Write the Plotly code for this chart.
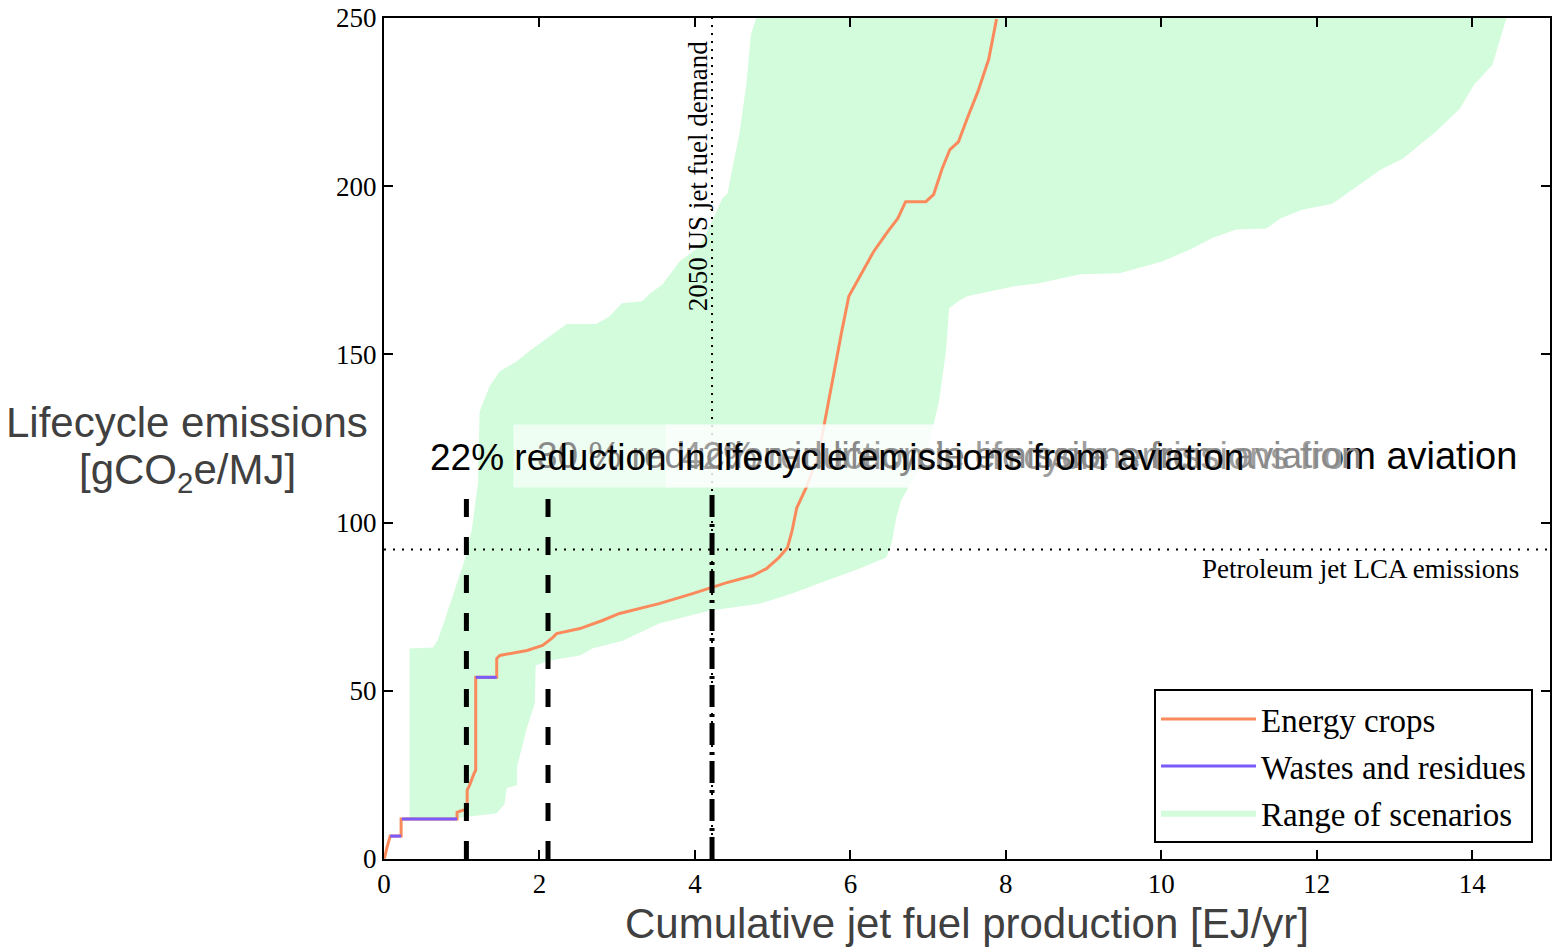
import plotly.graph_objects as go

# Range of scenarios: left/upper edge and right/lower edge of the envelope
range_upper_x = [0.33, 0.33, 0.63, 0.69, 0.78, 0.91, 1.04, 1.13, 1.21, 1.23, 1.36, 1.49, 1.71, 1.87,
                 2.17, 2.35, 2.73, 2.90, 3.06, 3.32, 3.41, 3.58, 3.71, 3.80, 4.06, 4.22, 4.35, 4.42,
                 4.48, 4.57, 4.66, 4.72, 4.79]
range_upper_y = [11.6, 62.6, 62.9, 65, 71, 80, 89, 98, 112, 133, 140.6, 145, 148, 151,
                 156, 159, 159, 161.3, 165.2, 165.8, 167.9, 170.8, 174.7, 177.6, 182.1, 189.5, 196.3, 197.8,
                 205.2, 215.3, 230.1, 245, 250]
range_lower_x = [0.33, 0.94, 1.45, 1.55, 1.58, 1.71, 1.71, 1.84, 1.94, 1.95, 2.13, 2.52, 2.68, 3.07,
                 3.54, 4.18, 4.83, 5.25, 5.69, 6.11, 6.46, 6.53, 6.59, 6.65, 6.75, 6.97, 7.14, 7.23,
                 7.27, 7.39, 7.50, 8.09, 8.41, 8.96, 9.46, 9.67, 10.01, 10.37, 10.65, 10.96, 11.35,
                 11.53, 11.81, 12.20, 12.48, 12.82, 13.11, 13.53, 13.84, 14.02, 14.26, 14.36, 14.44]
range_lower_y = [11.6, 12.2, 13.6, 16.3, 21.1, 21.9, 27.3, 39.1, 46.3, 57.5, 59.0, 60.5, 62.6, 64.9,
                 70.0, 73.8, 75.9, 78.9, 82.7, 86.3, 89.6, 93.7, 101.4, 106.5, 110.3, 119.2, 136.1, 151.0,
                 163.7, 165.8, 167.3, 170.2, 171.1, 173.8, 174.1, 175.3, 177.6, 181.2, 184.5, 187.1, 187.4,
                 190.4, 193.0, 194.8, 199.3, 204.9, 208.2, 216.2, 223.0, 230.1, 236.1, 243.8, 250]

# Supply curve (cumulative production vs lifecycle emissions)
crop_x = [0, 0.01, 0.04, 0.08, 0.22, 0.22, 0.94, 0.94, 1.01, 1.07, 1.07, 1.10, 1.16, 1.18, 1.18,
          1.45, 1.45, 1.49, 1.84, 2.04, 2.17, 2.22, 2.52, 2.81, 3.03, 3.54, 3.97, 4.18, 4.40, 4.74,
          4.92, 5.08, 5.19, 5.25, 5.31, 5.43, 5.60, 5.67, 5.79, 5.89, 5.98, 6.16, 6.30, 6.48, 6.61,
          6.71, 6.97, 7.07, 7.18, 7.28, 7.39, 7.50, 7.64, 7.78, 7.88]
crop_y = [0, 0.6, 3.6, 6.8, 6.8, 11.9, 11.9, 13.9, 14.5, 14.5, 20.5, 21.9, 25.5, 26.4, 54.0,
          54.0, 59.6, 60.5, 62.0, 63.5, 65.8, 67.0, 68.5, 70.9, 73.0, 75.9, 78.9, 80.4, 82.1, 84.2,
          86.3, 89.6, 92.5, 97.6, 104.4, 110.3, 121, 130, 145, 157, 167.3, 174.7, 180.6, 186.5, 190.4,
          195.4, 195.4, 197.5, 205.2, 210.9, 213.2, 220.0, 228.1, 237.8, 249.7]

# Segments supplied by wastes and residues
waste_x = [0.08, 0.22, None, 0.23, 0.94, None, 1.18, 1.45]
waste_y = [6.8, 6.8, None, 11.9, 11.9, None, 54.0, 54.0]

# Reference levels
demand_2050 = 4.22          # EJ/yr
petroleum_lca = 92          # gCO2e/MJ
reduction_dashed_x = [1.06, 2.11]
reduction_dashdot_x = 4.22
reduction_marker_top = 110

x_ticks = [0, 2, 4, 6, 8, 10, 12, 14]
y_ticks = [0, 50, 100, 150, 200, 250]

SERIF = "Liberation Serif, Times New Roman, serif"
SANS = "Liberation Sans, Arial, sans-serif"
FILL = "#d3fcdc"

fig = go.Figure()

fig.add_trace(go.Scatter(
    x=range_upper_x + range_lower_x[::-1],
    y=range_upper_y + range_lower_y[::-1],
    fill="toself", fillcolor=FILL, mode="lines", line=dict(width=0, color=FILL),
    name="Range of scenarios", legendgroup="c", legendrank=3, hoverinfo="skip"))

fig.add_trace(go.Scatter(
    x=crop_x, y=crop_y, mode="lines", line=dict(color="#fa8a5c", width=3),
    name="Energy crops", legendgroup="a", legendrank=1))

fig.add_trace(go.Scatter(
    x=waste_x, y=waste_y, mode="lines", line=dict(color="#7a5af8", width=3),
    name="Wastes and residues", legendgroup="b", legendrank=2, connectgaps=False))

# 2050 demand (dotted, full height)
fig.add_trace(go.Scatter(
    x=[demand_2050, demand_2050], y=[0, 250], mode="lines",
    line=dict(color="black", width=2, dash="2px,6px"), showlegend=False, hoverinfo="skip"))

# Petroleum jet reference (dotted, full width)
fig.add_trace(go.Scatter(
    x=[0, 15], y=[petroleum_lca, petroleum_lca], mode="lines",
    line=dict(color="black", width=2, dash="2px,7px"), showlegend=False, hoverinfo="skip"))

# Reduction markers
for xv in reduction_dashed_x:
    fig.add_trace(go.Scatter(
        x=[xv, xv], y=[0, reduction_marker_top], mode="lines",
        line=dict(color="black", width=5, dash="18px,20px"), showlegend=False, hoverinfo="skip"))
fig.add_trace(go.Scatter(
    x=[reduction_dashdot_x, reduction_dashdot_x], y=[0, reduction_marker_top], mode="lines",
    line=dict(color="black", width=5, dash="22px,6px,3px,7px"), showlegend=False, hoverinfo="skip"))

ann = []
ann.append(dict(x=demand_2050, y=203, xref="x", yref="y", text="2050 US jet fuel demand",
                textangle=-90, showarrow=False, xshift=-14,
                font=dict(family=SERIF, size=27, color="black")))
ann.append(dict(x=(1523 - 384) / 1168, y=petroleum_lca - 5.8, xref="paper", yref="y", xanchor="right",
                yanchor="middle", text="Petroleum jet LCA emissions", showarrow=False,
                font=dict(family=SERIF, size=27, color="black")))

# Overlapping reduction captions with translucent backing boxes
box_y = (859 - 455) / 843
ann.append(dict(x=(665 - 384) / 1168, y=box_y, xref="paper", yref="paper", xanchor="left", yanchor="middle",
                text="\u00a0", width=865, height=62, bgcolor="rgba(255,255,255,0.6)", borderpad=0,
                showarrow=False, font=dict(size=10)))
ann.append(dict(x=(680 - 384) / 1168, y=box_y, xref="paper", yref="paper", xanchor="left", yanchor="middle",
                text="42% reduction in lifecycle emissions from aviation", showarrow=False,
                font=dict(family=SANS, size=38, color="black")))
ann.append(dict(x=(513 - 384) / 1168, y=box_y, xref="paper", yref="paper", xanchor="left", yanchor="middle",
                text="\u00a0", width=827, height=62, bgcolor="rgba(255,255,255,0.62)", borderpad=0,
                showarrow=False, font=dict(size=10)))
ann.append(dict(x=(535 - 384) / 1168, y=box_y, xref="paper", yref="paper", xanchor="left", yanchor="middle",
                text="30 % reduction in lifecycle emissions from aviation", showarrow=False,
                font=dict(family=SANS, size=37, color="#8a8a8a")))
ann.append(dict(x=(428 - 384) / 1168, y=(859 - 457) / 843, xref="paper", yref="paper", xanchor="left",
                yanchor="middle", text="22% reduction in lifecycle emissions from aviation", showarrow=False,
                font=dict(family=SANS, size=37, color="black")))

# Y axis title, written horizontally to the left of the axis
ann.append(dict(x=(187 - 384) / 1168, y=(859 - 421) / 843, xref="paper", yref="paper",
                text="Lifecycle emissions", showarrow=False, xanchor="center", yanchor="middle",
                font=dict(family=SANS, size=42, color="#404040")))
ann.append(dict(x=(187 - 384) / 1168, y=(859 - 472) / 843, xref="paper", yref="paper",
                text="[gCO<sub>2</sub>e/MJ]", showarrow=False, xanchor="center", yanchor="middle",
                font=dict(family=SANS, size=42, color="#404040")))

fig.update_layout(
    width=1555, height=947,
    margin=dict(l=384, r=3, t=16, b=88),
    plot_bgcolor="white", paper_bgcolor="white",
    annotations=ann,
    showlegend=True,
    legend=dict(x=(1535 - 384) / 1168, y=(859 - 843) / 843, xanchor="right", yanchor="bottom",
                bordercolor="black", borderwidth=2, bgcolor="white",
                font=dict(family=SERIF, size=33, color="black"),
                traceorder="grouped", tracegroupgap=1, itemwidth=95),
    xaxis=dict(range=[0, 15], tickvals=x_ticks, ticks="inside", ticklen=9, tickwidth=1.5,
               tickcolor="black", showline=True, linecolor="black", linewidth=2, mirror="ticks",
               showgrid=False, zeroline=False,
               tickfont=dict(family=SERIF, size=27, color="black"),
               title=dict(text="Cumulative jet fuel production [EJ/yr]", standoff=10,
                          font=dict(family=SANS, size=42, color="#404040"))),
    yaxis=dict(range=[0, 250], tickvals=y_ticks, ticks="inside", ticklen=9, tickwidth=1.5,
               tickcolor="black", showline=True, linecolor="black", linewidth=2, mirror="ticks",
               showgrid=False, zeroline=False,
               tickfont=dict(family=SERIF, size=27, color="black")),
)

fig.write_html("out.html")
